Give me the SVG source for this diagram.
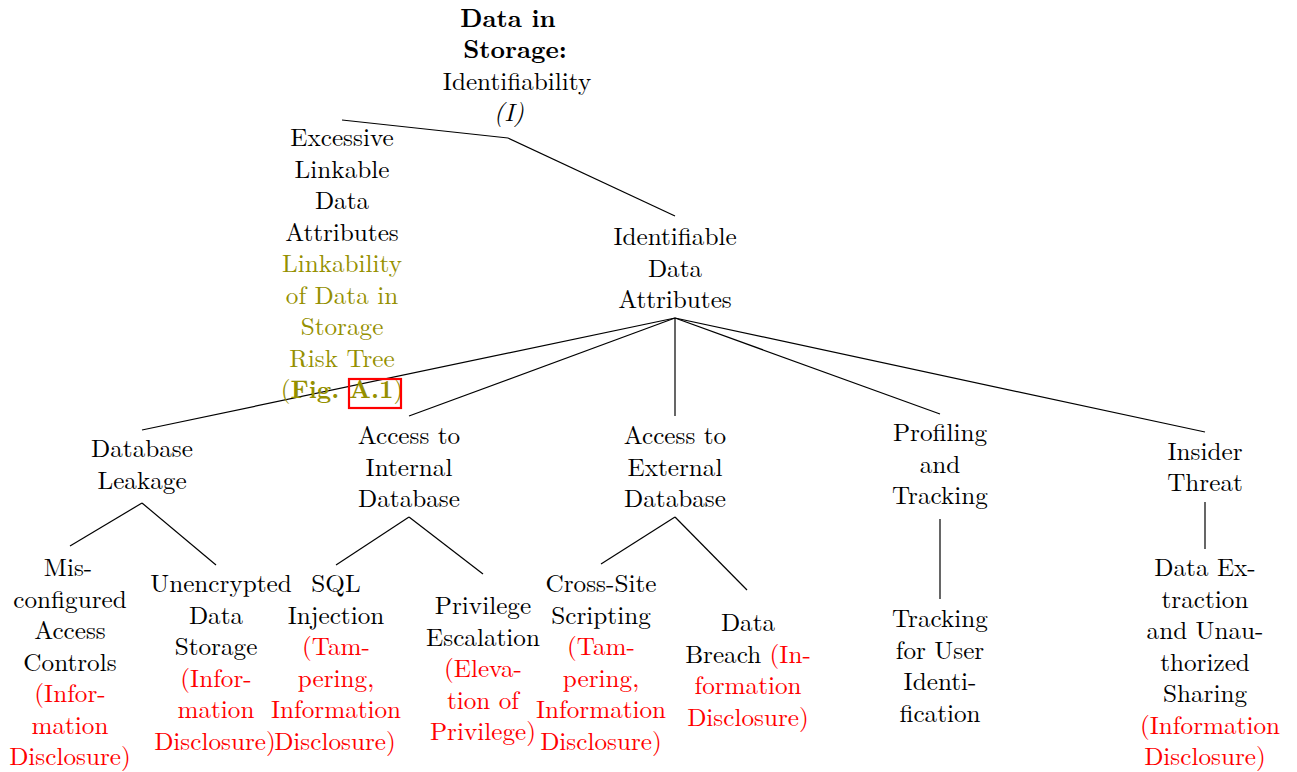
<svg xmlns="http://www.w3.org/2000/svg" width="1297" height="772" viewBox="0 0 1297 772">
<style>
text{font-family:'Latin Modern Roman','Liberation Serif',serif;font-size:25.2px;text-anchor:middle;fill:#000}
.r{fill:#ff0000}
.o{fill:#959000}
.b{font-weight:bold}
.i{font-style:italic}
.c line{stroke:#000;stroke-width:1.2}
</style>
<rect width="1297" height="772" fill="#fff"/>
<g id="connectors" class="c">
<line x1="508" y1="138" x2="342" y2="120"/>
<line x1="508" y1="138" x2="675" y2="216"/>
<line x1="675" y1="318" x2="142" y2="430"/>
<line x1="675" y1="318" x2="409" y2="416"/>
<line x1="675" y1="318" x2="675" y2="416"/>
<line x1="675" y1="318" x2="940" y2="414"/>
<line x1="675" y1="318" x2="1205" y2="432"/>
<line x1="142" y1="503" x2="70" y2="546"/>
<line x1="142" y1="503" x2="216" y2="565"/>
<line x1="409" y1="517" x2="336" y2="565"/>
<line x1="409" y1="517" x2="483" y2="574"/>
<line x1="675" y1="517" x2="601" y2="564"/>
<line x1="675" y1="517" x2="747" y2="590"/>
<line x1="940" y1="519" x2="940" y2="599"/>
<line x1="1205" y1="502" x2="1205" y2="549"/>
</g>
<g id="root">
<text x="508" y="27" class="b">Data in</text>
<text x="515" y="58" class="b">Storage:</text>
<text x="517" y="90">Identifiability</text>
<text x="509" y="121" class="i">(I)</text>
</g>
<g id="excessive">
<text x="342" y="146">Excessive</text>
<text x="342" y="177.5">Linkable</text>
<text x="342" y="209">Data</text>
<text x="342" y="240.5">Attributes</text>
<text x="342" y="272" class="o">Linkability</text>
<text x="342" y="303.5" class="o">of Data in</text>
<text x="342" y="335" class="o">Storage</text>
<text x="342" y="366.5" class="o">Risk Tree</text>
<text x="342" y="398" class="o">(<tspan class="b">Fig. A.1</tspan>)</text>
<rect x="349" y="379" width="52" height="29" fill="none" stroke="#ff0000" stroke-width="2.2"/>
</g>
<g id="identifiable">
<text x="675" y="245">Identifiable</text>
<text x="675" y="276.5">Data</text>
<text x="675" y="308">Attributes</text>
</g>
<g id="db-leakage">
<text x="142" y="457">Database</text>
<text x="142" y="489">Leakage</text>
</g>
<g id="access-internal">
<text x="409" y="444">Access to</text>
<text x="409" y="475.5">Internal</text>
<text x="409" y="507">Database</text>
</g>
<g id="access-external">
<text x="675" y="444">Access to</text>
<text x="675" y="475.5">External</text>
<text x="675" y="507">Database</text>
</g>
<g id="profiling">
<text x="940" y="441">Profiling</text>
<text x="940" y="472.5">and</text>
<text x="940" y="504">Tracking</text>
</g>
<g id="insider">
<text x="1205" y="460">Insider</text>
<text x="1205" y="491">Threat</text>
</g>
<g id="misconfigured">
<text x="68" y="576">Mis-</text>
<text x="70" y="607.5">configured</text>
<text x="70" y="639">Access</text>
<text x="70" y="670.5">Controls</text>
<text x="70" y="702" class="r">(Infor-</text>
<text x="70" y="733.5" class="r">mation</text>
<text x="70" y="765" class="r">Disclosure)</text>
</g>
<g id="unencrypted">
<text x="221" y="592">Unencrypted</text>
<text x="216" y="623.5">Data</text>
<text x="216" y="655">Storage</text>
<text x="216" y="686.5" class="r">(Infor-</text>
<text x="216" y="718" class="r">mation</text>
<text x="215" y="749.5" class="r">Disclosure)</text>
</g>
<g id="sql">
<text x="336" y="592">SQL</text>
<text x="336" y="623.5">Injection</text>
<text x="336" y="655" class="r">(Tam-</text>
<text x="336" y="686.5" class="r">pering,</text>
<text x="336" y="718" class="r">Information</text>
<text x="335" y="749.5" class="r">Disclosure)</text>
</g>
<g id="privilege">
<text x="483" y="614">Privilege</text>
<text x="483" y="645.5">Escalation</text>
<text x="483" y="677" class="r">(Eleva-</text>
<text x="483" y="708.5" class="r">tion of</text>
<text x="483" y="740" class="r">Privilege)</text>
</g>
<g id="xss">
<text x="601" y="592">Cross-Site</text>
<text x="601" y="623.5">Scripting</text>
<text x="601" y="655" class="r">(Tam-</text>
<text x="601" y="686.5" class="r">pering,</text>
<text x="601" y="718" class="r">Information</text>
<text x="601" y="749.5" class="r">Disclosure)</text>
</g>
<g id="breach">
<text x="748" y="631">Data</text>
<text x="748" y="662.5">Breach <tspan class="r">(In-</tspan></text>
<text x="748" y="694" class="r">formation</text>
<text x="748" y="725.5" class="r">Disclosure)</text>
</g>
<g id="tracking">
<text x="940" y="627">Tracking</text>
<text x="940" y="658.5">for User</text>
<text x="940" y="690">Identi-</text>
<text x="940" y="721.5">fication</text>
</g>
<g id="extraction">
<text x="1205" y="576">Data Ex-</text>
<text x="1205" y="607.5">traction</text>
<text x="1205" y="639">and Unau-</text>
<text x="1205" y="670.5">thorized</text>
<text x="1205" y="702">Sharing</text>
<text x="1210" y="733.5" class="r">(Information</text>
<text x="1205" y="765" class="r">Disclosure)</text>
</g>
</svg>
